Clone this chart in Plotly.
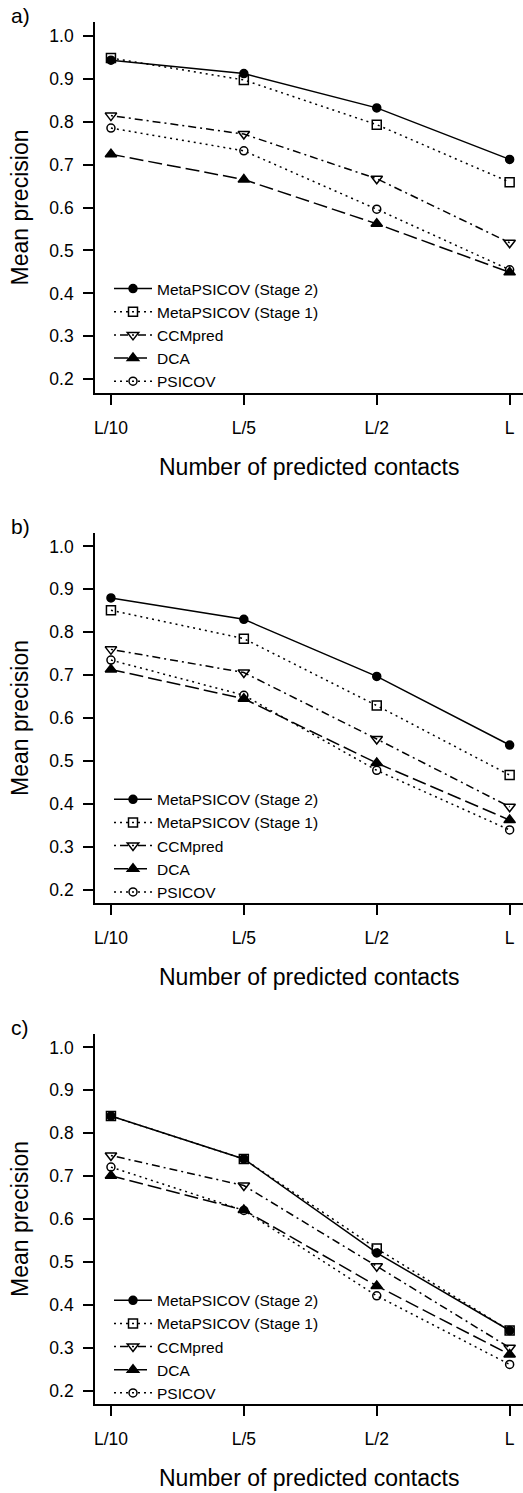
import plotly.graph_objects as go

# ---------------- data ----------------
categories = ["L/10", "L/5", "L/2", "L"]
series_names = ["MetaPSICOV (Stage 2)", "MetaPSICOV (Stage 1)", "CCMpred", "DCA", "PSICOV"]

# panel a
a_stage2 = [0.943, 0.912, 0.832, 0.712]
a_stage1 = [0.948, 0.897, 0.793, 0.659]
a_ccmpred = [0.814, 0.771, 0.667, 0.518]
a_dca = [0.724, 0.665, 0.562, 0.449]
a_psicov = [0.785, 0.732, 0.596, 0.455]

# panel b
b_stage2 = [0.880, 0.830, 0.697, 0.537]
b_stage1 = [0.851, 0.785, 0.629, 0.467]
b_ccmpred = [0.760, 0.706, 0.551, 0.393]
b_dca = [0.713, 0.645, 0.495, 0.362]
b_psicov = [0.735, 0.653, 0.478, 0.339]

# panel c
c_stage2 = [0.840, 0.740, 0.521, 0.340]
c_stage1 = [0.840, 0.740, 0.531, 0.340]
c_ccmpred = [0.748, 0.678, 0.490, 0.300]
c_dca = [0.701, 0.621, 0.444, 0.284]
c_psicov = [0.721, 0.620, 0.421, 0.261]

panel_labels = ["a)", "b)", "c)"]
y_tick_values = [0.2, 0.3, 0.4, 0.5, 0.6, 0.7, 0.8, 0.9, 1.0]
x_title = "Number of predicted contacts"
y_title = "Mean precision"

# ---------------- styles ----------------
FONT = "Liberation Sans, Arial, Helvetica, sans-serif"
styles = [
    dict(dash="solid", symbol="circle", size=8),
    dict(dash="2px,4px", symbol="square-open", size=9),
    dict(dash="2px,4px,8px,4px", symbol="triangle-down-open", size=10),
    dict(dash="14px,5px", symbol="triangle-up", size=10),
    dict(dash="2px,4px", symbol="circle-open", size=8),
]

panels = [
    [a_stage2, a_stage1, a_ccmpred, a_dca, a_psicov],
    [b_stage2, b_stage1, b_ccmpred, b_dca, b_psicov],
    [c_stage2, c_stage1, c_ccmpred, c_dca, c_psicov],
]

W, H = 523, 1493
ML = 95
plot_w = W - ML
# plot region tops/bottoms in px
tops = [22, 532.7, 1033.7]
bottoms = [393, 903.3, 1404.3]
label_y = [15, 526.7, 1027]

fig = go.Figure()
legend_names = ["legend", "legend2", "legend3"]

for p, series in enumerate(panels):
    sfx = "" if p == 0 else str(p + 1)
    for name, vals, st in zip(series_names, series, styles):
        fig.add_trace(go.Scatter(
            x=categories, y=vals, name=name,
            mode="lines+markers",
            xaxis="x" + sfx, yaxis="y" + sfx,
            legend=legend_names[p],
            line=dict(color="black", width=1.5, dash=st["dash"]),
            marker=dict(symbol=st["symbol"], size=st["size"], color="black",
                        line=dict(color="black", width=1.5)),
        ))

layout = dict(
    width=W, height=H,
    margin=dict(l=ML, r=0, t=0, b=0),
    paper_bgcolor="white", plot_bgcolor="white",
    font=dict(family=FONT, color="black"),
    annotations=[],
)

for p in range(3):
    sfx = "" if p == 0 else str(p + 1)
    dom = [1 - bottoms[p] / H, 1 - tops[p] / H]
    layout["xaxis" + sfx] = dict(
        type="category", domain=[0, 1], anchor="y" + sfx,
        range=[-0.12, 3.1005],
        showline=True, linecolor="black", linewidth=1.6,
        ticks="outside", ticklen=10, tickwidth=1.5, tickcolor="black",
        showgrid=False, zeroline=False,
        tickfont=dict(size=17.5, family=FONT, color="black"),
        ticklabelstandoff=8,
    )
    layout["yaxis" + sfx] = dict(
        domain=dom, anchor="x" + sfx,
        range=[0.168, 1.032],
        tickvals=y_tick_values, tickformat=".1f",
        showline=True, linecolor="black", linewidth=1.6,
        ticks="outside", ticklen=10, tickwidth=1.5, tickcolor="black",
        showgrid=False, zeroline=False,
        tickfont=dict(size=17.5, family=FONT, color="black"),
        ticklabelstandoff=6,
    )
    # legend
    leg_top_px = tops[p] + 250
    layout[legend_names[p]] = dict(
        x=(109 - ML) / plot_w,
        xanchor="left",
        y=1 - leg_top_px / H, yanchor="top",
        bgcolor="rgba(0,0,0,0)", borderwidth=0,
        font=dict(size=15.5, family=FONT, color="black"),
        itemwidth=38,
        tracegroupgap=0,
    )
    # panel label
    layout["annotations"].append(dict(
        text=panel_labels[p], xref="paper", yref="paper",
        x=(20 - ML) / plot_w, y=1 - label_y[p] / H, xanchor="center", yanchor="middle",
        showarrow=False, font=dict(size=21, family=FONT, color="black"),
    ))
    # axis titles
    layout["annotations"].append(dict(
        text=x_title, xref="x" + sfx + " domain", yref="y" + sfx + " domain",
        x=0.5, y=-74 / (bottoms[p] - tops[p]), xanchor="center", yanchor="middle",
        showarrow=False, font=dict(size=23, family=FONT, color="black"),
    ))
    layout["annotations"].append(dict(
        text=y_title, xref="x" + sfx + " domain", yref="y" + sfx + " domain",
        x=(20 - ML) / plot_w, y=0.5, xanchor="center", yanchor="middle",
        textangle=-90,
        showarrow=False, font=dict(size=23, family=FONT, color="black"),
    ))

fig.update_layout(**layout)
fig.write_html("out.html", config={"displayModeBar": False},
               post_script="document.body.style.margin='0px';")
